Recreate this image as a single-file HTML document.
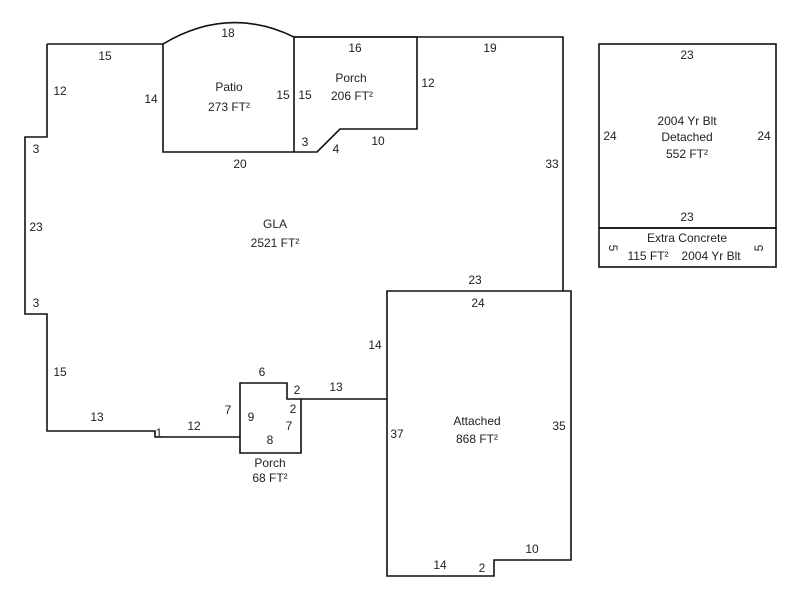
<!DOCTYPE html>
<html><head><style>body{margin:0;background:#fff}svg{display:block}text{font-family:"Liberation Sans",Arial,sans-serif;font-size:12px;fill:#222}</style></head><body>
<svg width="800" height="600" viewBox="0 0 800 600" xmlns="http://www.w3.org/2000/svg">
<g fill="none" stroke="#111" stroke-width="1.6">
<path d="M47,44 L163,44 M294,37 L563,37 L563,291 M387,399 L301,399 M240,437 L155,437 L155,431 L47,431 L47,314 L25,314 L25,137 L47,137 L47,44"/>
<path d="M163,44 Q228,5 294,37 L294,152 L163,152 Z"/>
<path d="M294,37 L417,37 L417,129 L340,129 L317,152 L294,152"/>
<path d="M387,291 L571,291 L571,560 L494,560 L494,576 L387,576 Z"/>
<path d="M240,383 L287,383 L287,399 L301,399 L301,453 L240,453 Z"/>
<rect x="599" y="44" width="177" height="184"/>
<rect x="599" y="228" width="177" height="39"/>
</g>
<g text-anchor="middle">
<text x="105" y="60">15</text><text x="60" y="95">12</text><text x="36" y="153">3</text><text x="36" y="231">23</text><text x="36" y="307">3</text><text x="60" y="376">15</text><text x="97" y="421">13</text><text x="159" y="437">1</text><text x="194" y="430">12</text>
<text x="228" y="37">18</text><text x="151" y="103">14</text><text x="229" y="91">Patio</text><text x="229" y="111">273 FT²</text><text x="283" y="99">15</text><text x="240" y="168">20</text>
<text x="355" y="52">16</text><text x="305" y="99">15</text><text x="351" y="82">Porch</text><text x="352" y="100">206 FT²</text><text x="428" y="87">12</text><text x="305" y="146">3</text><text x="336" y="153">4</text><text x="378" y="145">10</text>
<text x="490" y="52">19</text><text x="552" y="168">33</text><text x="275" y="228">GLA</text><text x="275" y="247">2521 FT²</text>
<text x="475" y="284">23</text><text x="478" y="307">24</text><text x="375" y="349">14</text><text x="336" y="391">13</text><text x="397" y="438">37</text><text x="477" y="425">Attached</text><text x="477" y="443">868 FT²</text><text x="559" y="430">35</text><text x="440" y="569">14</text><text x="482" y="572">2</text><text x="532" y="553">10</text>
<text x="262" y="376">6</text><text x="297" y="394">2</text><text x="228" y="414">7</text><text x="251" y="421">9</text><text x="293" y="413">2</text><text x="289" y="430">7</text><text x="270" y="444">8</text><text x="270" y="467">Porch</text><text x="270" y="482">68 FT²</text>
<text x="687" y="59">23</text><text x="610" y="140">24</text><text x="764" y="140">24</text><text x="687" y="125">2004 Yr Blt</text><text x="687" y="141">Detached</text><text x="687" y="158">552 FT²</text><text x="687" y="221">23</text>
<text x="687" y="242">Extra Concrete</text><text x="648" y="260">115 FT²</text><text x="711" y="260">2004 Yr Blt</text>
<text x="0" y="0" transform="translate(609,248) rotate(90)">5</text><text x="0" y="0" transform="translate(763,248) rotate(-90)">5</text>
</g>
</svg>
</body></html>
